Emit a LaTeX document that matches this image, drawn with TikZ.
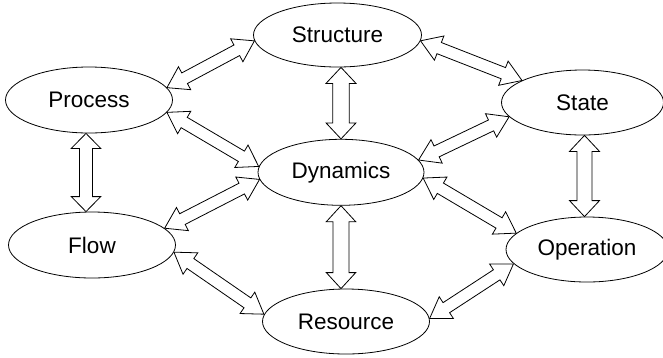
\documentclass[tikz,border=0pt]{standalone}
\usepackage{fontspec}
\setmainfont{Liberation Sans}
\usetikzlibrary{shapes.geometric,calc}

% Hollow double-headed block arrow between two points:
% #1 start, #2 end, #3 shaft half-width, #4 head half-width, #5 head length (pt)
\newcommand\blockarrow[5]{%
  \draw[blockarr] let \p1=#1, \p2=#2,
      \n1={atan2(\y2-\y1,\x2-\x1)}, \n2={veclen(\x2-\x1,\y2-\y1)} in
    [shift={(\p1)}, rotate=\n1]
    (0pt,0pt) -- (#5pt,#4pt) -- (#5pt,#3pt) -- ({\n2*1pt-#5pt},#3pt)
    -- ({\n2*1pt-#5pt},#4pt) -- ({\n2*1pt},0pt) -- ({\n2*1pt-#5pt},-#4pt)
    -- ({\n2*1pt-#5pt},-#3pt) -- (#5pt,-#3pt) -- (#5pt,-#4pt) -- cycle;%
}

\begin{document}
\begin{tikzpicture}[x=1pt,y=-1pt,
  concept/.style={draw, ellipse, line width=0.8pt, inner sep=0pt,
    font=\fontsize{22.5}{26}\selectfont},
  blockarr/.style={draw, fill=white, line width=0.8pt, line join=miter}]
\useasboundingbox (0,0) rectangle (663,357);

% concepts
\node[concept, minimum width=168, minimum height=64] (S)  at (337.5,35)  {Structure};
\node[concept, minimum width=167, minimum height=66] (P)  at (89,100)    {Process};
\node[concept, minimum width=162, minimum height=65] (St) at (582.5,102.5) {State};
\node[concept, minimum width=166, minimum height=66] (D)  at (341,172.3) {Dynamics};
\node[concept, minimum width=167, minimum height=66] (F)  at (92,245)    {Flow};
\node[concept, minimum width=162, minimum height=65] (O)  at (587,249.5) {Operation};
\node[concept, minimum width=167, minimum height=65] (R)  at (346,321.5) {Resource};

% vertical links
\blockarrow{(D.north |- S.south)}{(D.north)}{8.3}{15}{16}
\blockarrow{(D.south)}{(D.south |- R.north)}{8}{14.7}{16}
\blockarrow{([xshift=-3pt]P.south)}{([xshift=-3pt]P.south |- F.north)}{6.5}{14.7}{15}
\blockarrow{([xshift=2pt]St.south)}{([xshift=2pt]St.south |- O.north)}{7.5}{15}{16}

% diagonal links
\blockarrow{(P.9)}{(S.184)}{6}{13}{20}
\blockarrow{(S.-4)}{(St.160.6)}{6}{13}{20}
\blockarrow{(P.-9.6)}{(D.176.5)}{6}{13}{20}
\blockarrow{(D.9.7)}{(St.191.4)}{6}{13}{20}
\blockarrow{(D.185.6)}{(F.13.8)}{6}{13}{20}
\blockarrow{(D.-4.8)}{(O.167.1)}{6}{13}{20}
\blockarrow{(F.-5.7)}{(R.175.4)}{6}{13}{20}
\blockarrow{(R.2.4)}{(O.191.1)}{6}{13}{20}
\end{tikzpicture}
\end{document}
